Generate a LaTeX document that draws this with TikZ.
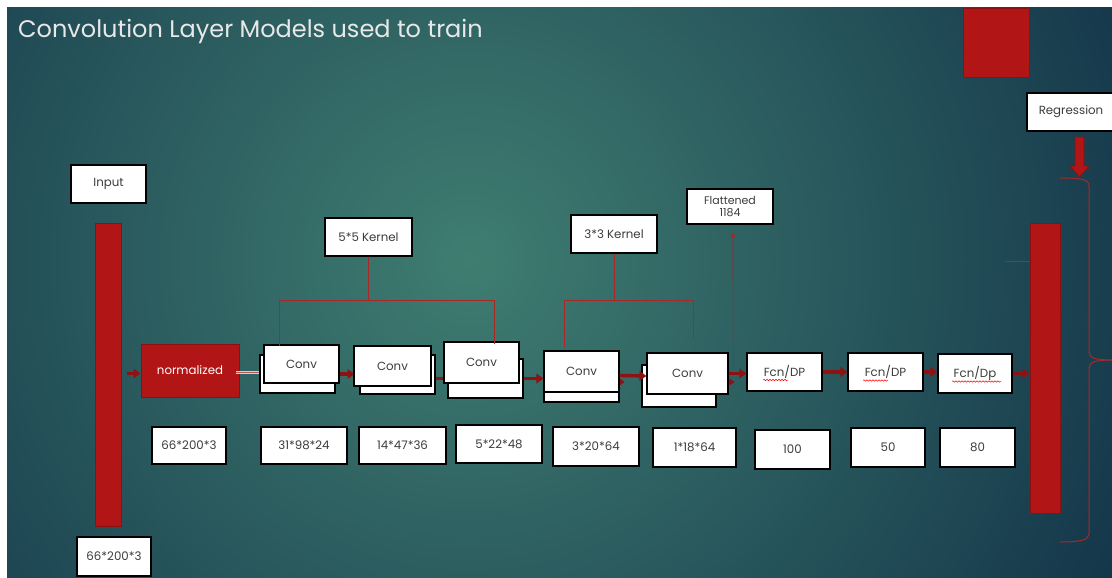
\documentclass[tikz,border=0pt]{standalone}
\usepackage{fontspec}
\setmainfont{Poppins}
\usetikzlibrary{arrows.meta,shadows,decorations.pathmorphing,calc}
\definecolor{redfill}{HTML}{B11515}
\definecolor{redborder}{HTML}{8A1111}
\definecolor{arrowred}{HTML}{8E1212}
\definecolor{linered}{HTML}{A82828}
\definecolor{txtgray}{HTML}{3C3C3C}
\definecolor{titlec}{HTML}{E8E8E8}
\definecolor{bginner}{HTML}{3F7D71}
\definecolor{bgouter}{HTML}{14364A}
\definecolor{pinkline}{HTML}{F0C4C4}
\tikzset{
  wbox/.style={draw=black, line width=1.1pt, fill=white, inner sep=0pt, text=txtgray,
    font=\fontsize{11.8}{13.5}\selectfont,
    drop shadow={shadow xshift=1.2pt, shadow yshift=-1.2pt, opacity=0.3}},
  redbar/.style={draw=redborder, line width=1pt, fill=redfill, inner sep=0pt},
  thk/.style={draw=arrowred, line width=3.4pt, -{Triangle[length=7pt,width=9.5pt]}},
  thkline/.style={draw=arrowred, line width=3.4pt},
  kline/.style={draw=linered, line width=0.9pt},
  squig/.style={draw=red, line width=0.5pt, decorate, decoration={snake, amplitude=0.7pt, segment length=3pt}}
}
\begin{document}
\begin{tikzpicture}[x=1pt,y=-1pt]
\fill[white] (0,0) rectangle (1112,578);
\useasboundingbox (0,0) rectangle (1112,578);
\begin{scope}
  \clip (7,8) rectangle (1112,578);
  \shade[inner color=bginner, outer color=bgouter] (470,260) circle (720pt);
\end{scope}

% title
\node[anchor=west, text=titlec, font=\fontsize{24}{28}\selectfont, inner sep=0pt] (title) at (18,31) {Convolution Layer Models used to train};

% red shapes
\node[redbar, minimum width=66pt, minimum height=69pt, drop shadow={shadow xshift=1pt, shadow yshift=-1pt, opacity=0.3}] (rsq) at (996,43) {};
\node[redbar, minimum width=26pt, minimum height=303pt] (lbar) at (108,374.5) {};
\node[redbar, minimum width=30pt, minimum height=290pt] (rbar) at (1045,368) {};
\node[redbar, minimum width=98pt, minimum height=53pt, text=white, font=\fontsize{11.8}{13.5}\selectfont] (norm) at (190,370.5) {normalized};

% input labels
\node[wbox, minimum width=75pt, minimum height=38pt] (input) at (108.5,184) {Input};
\node[wbox, minimum width=74pt, minimum height=39pt] (inbot) at (114,556.5) {66*200*3};

% left bar to normalized
\draw[thk] ($(lbar.east)+(5,-1)$) -- ($(lbar.east -| norm.west)+(0,-1)$);

% conv 1
\node[wbox, minimum width=75pt, minimum height=38pt] (c1b) at (297.5,374) {};
\node[wbox, minimum width=75pt, minimum height=38pt] (c1f) at (301.5,364) {Conv};
\draw[draw=pinkline, line width=0.7pt, double=arrowred!70, double distance=0.8pt] ($(norm.east)+(-4,2)$) -- ($(norm.east -| c1b.west)+(0,2)$);
\draw[thk] (c1f.east |- c1b.east) -- ($(c1b.east)+(19,0)$);

% conv 2
\coordinate (c2c3) at (420,378.5);
\coordinate (c3in) at (446,378.5);
\draw[thkline] (c2c3) -- (c3in);
\node[wbox, minimum width=75pt, minimum height=39pt] (c2b) at (397.5,374.5) {};
\node[wbox, minimum width=77pt, minimum height=40pt] (c2f) at (392.5,366) {Conv};

% conv 3
\node[wbox, minimum width=75pt, minimum height=39pt] (c3b) at (485.5,378.5) {};
\node[wbox, minimum width=75pt, minimum height=41pt] (c3f) at (481.5,362.5) {Conv};

% conv 4
\node[wbox, minimum width=75pt, minimum height=42pt] (c4b) at (581.5,381) {};
\draw[thk] (c3b.east) -- (c4b.west |- c3b.east);
\draw[thk, -{Triangle[length=5pt,width=7pt]}] ($(c4b.east)+(-6,1)$) -- ($(c4b.east)+(5,1)$);
\node[wbox, minimum width=75pt, minimum height=41pt] (c4f) at (581.5,371.5) {Conv};

% conv 5
\node[wbox, minimum width=74pt, minimum height=42pt] (c5b) at (679,386) {};
\draw[thk] ($(c4f.east)+(0,4)$) -- ($(c5b.west)+(5,-10)$);
\draw[thk, -{Triangle[length=5pt,width=7pt]}] ($(c5b.east)+(4,-4)$) -- ($(c5b.east)+(18,-4)$);
\node[wbox, minimum width=81pt, minimum height=41pt] (c5f) at (687.5,373.5) {Conv};

% fully connected
\node[wbox, minimum width=75pt, minimum height=38pt] (fcn1) at (784.5,372) {Fcn/DP};
\node[wbox, minimum width=75pt, minimum height=38pt] (fcn2) at (885.5,372) {Fcn/DP};
\node[wbox, minimum width=74pt, minimum height=39pt] (fcn3) at (975,373.5) {Fcn/Dp};
\draw[squig] ($(fcn1.center)+(-21.5,8)$) -- ($(fcn1.center)+(3.5,8)$);
\draw[squig] ($(fcn2.center)+(-22.5,8.5)$) -- ($(fcn2.center)+(2.5,8.5)$);
\draw[squig] ($(fcn3.center)+(-23,8)$) -- ($(fcn3.center)+(26,8)$);
\draw[thk] (c5f.east) -- (c5f.east -| fcn1.west);
\draw[thk] (fcn1.east) -- (fcn1.east -| fcn2.west);
\draw[thk] (fcn2.east) -- (fcn2.east -| fcn3.west);
\draw[thk] (fcn3.east) -- (fcn3.east -| rbar.west);

% kernels
\node[wbox, minimum width=87pt, minimum height=38pt] (k5) at (368.5,237) {5*5 Kernel};
\node[wbox, minimum width=86pt, minimum height=38pt] (k3) at (614,234) {3*3 Kernel};
\coordinate (k5l) at (279,300);
\coordinate (k5r) at (494,300);
\coordinate (k3l) at (564,300);
\coordinate (k3r) at (693,300);
\draw[kline] (k5.south) -- (k5.south |- k5l);
\draw[kline] ($(k5l |- c1f.north)+(0,2)$) -- (k5l) -- (k5r) -- ($(k5r |- c3f.north)+(0,3)$);
\draw[kline] (k3.south) -- (k3.south |- k3l);
\draw[kline] ($(k3l |- c4f.north)+(0,-3)$) -- (k3l) -- (k3r) -- ($(k3r |- c5f.north)+(0,-13)$);

% flattened
\node[wbox, minimum width=86pt, minimum height=35pt, align=center, font=\fontsize{11}{12}\selectfont] (flat) at (730,206.5) {Flattened\\1184};
\draw[kline, -{Triangle[length=5pt,width=5pt]}] ($(c5f.east)+(5,-3)$) -- ($(flat.south)+(3,8)$);

% regression
\node[wbox, minimum width=88pt, minimum height=38pt] (reg) at (1071,112) {Regression};
\coordinate (ra) at (1079.5,137);
\fill[redfill, draw=redborder, line width=0.6pt] (ra) ++(-4.5,0) -- ++(9,0) -- ++(0,29) -- ++(5,0) -- ++(-9.5,11) -- ++(-9.5,-11) -- ++(5,0) -- cycle;

% brace
\draw[draw=linered, line width=1pt] (1060,178) .. controls (1080,178) and (1089,179) .. (1089,186) -- (1089,352) .. controls (1089,358) and (1095,360) .. (1113,360);
\draw[draw=linered, line width=1pt] (1113,360) .. controls (1095,360) and (1089,362) .. (1089,368) -- (1089,534) .. controls (1089,540) and (1080,542) .. (1060,542);
\coordinate (rl) at (1005,261);
\draw[kline] (rl) -- (rl -| rbar.west);

% bottom sizes
\node[wbox, minimum width=74pt, minimum height=37pt] (b1) at (189,445.5) {66*200*3};
\node[wbox, minimum width=86pt, minimum height=37pt] (b2) at (304,445.5) {31*98*24};
\node[wbox, minimum width=87pt, minimum height=37pt] (b3) at (402.5,445.5) {14*47*36};
\node[wbox, minimum width=86pt, minimum height=38pt] (b4) at (499,444) {5*22*48};
\node[wbox, minimum width=86pt, minimum height=39pt] (b5) at (596,446.5) {3*20*64};
\node[wbox, minimum width=83pt, minimum height=39pt] (b6) at (694.5,447.5) {1*18*64};
\node[wbox, minimum width=75pt, minimum height=39pt] (b7) at (792.5,449.5) {100};
\node[wbox, minimum width=74pt, minimum height=39pt] (b8) at (888,447.5) {50};
\node[wbox, minimum width=75pt, minimum height=39pt] (b9) at (977.5,447.5) {80};
\end{tikzpicture}
\end{document}
